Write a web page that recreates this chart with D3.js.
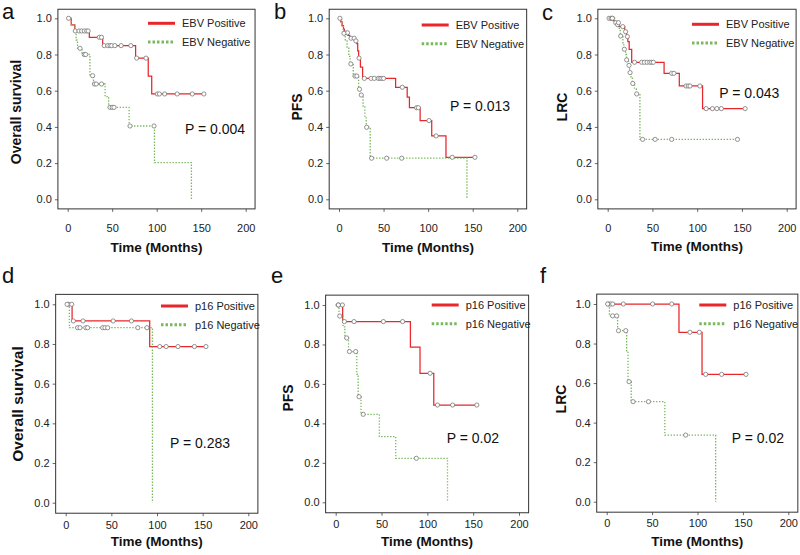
<!DOCTYPE html>
<html><head><meta charset="utf-8">
<script src="https://cdn.jsdelivr.net/npm/d3@7"></script>
<style>
body{margin:0;background:#fff}
svg{display:block;font-family:"Liberation Sans",Arial,sans-serif}
</style>
</head><body>
<svg id="chart" width="800" height="555"></svg>
<script>
// ---------- data ----------
const timeTicks = [0, 50, 100, 150, 200];
const survTicks = [0, 0.2, 0.4, 0.6, 0.8, 1.0];
const panelLetters = ["a", "b", "c", "d", "e", "f"];
const yTitles = ["Overall survival", "PFS", "LRC", "Overall survival", "PFS", "LRC"];
const pValues = ["P = 0.004", "P = 0.013", "P = 0.043", "P = 0.283", "P = 0.02", "P = 0.02"];
const markers = ["EBV", "EBV", "EBV", "p16", "p16", "p16"];
const groupStatus = ["Positive", "Negative"];

// steps: [time (months), survival from that time on]; censor: censored times
const aPosSteps = [[0,1],[4,0.963],[8,0.93],[24.3,0.895],[39.3,0.849],[76.3,0.78],[90.5,0.68],[94.4,0.582]];
const aPosCensor = [1,8.5,12.7,15.7,18.6,21.3,23,35.5,38,41,45,47.5,49.4,53,60,71,77.5,88,100.7,103,109,123,140,153];
const aNegSteps = [[0,1],[4,0.963],[8,0.926],[9.5,0.88],[11,0.834],[16,0.80],[25,0.683],[29,0.637],[42,0.567],[46,0.508],[69,0.405],[97.5,0.203],[139,0]];
const aNegCensor = [13.8,18.6,20.2,28,30,32,38,47.5,50,52,70,97];

const bPosSteps = [[0,1],[2,0.98],[3.5,0.96],[5,0.94],[6,0.92],[10,0.905],[12,0.89],[18,0.875],[20,0.86],[21,0.82],[22,0.78],[24,0.73],[26.5,0.668],[63.5,0.619],[76.5,0.564],[79,0.506],[91,0.435],[104,0.35],[120,0.232]];
const bPosCensor = [1,6.5,9.5,13.5,17,19,22.5,28.4,36,39.6,44,46,48,50,71,87,89,101,109,127,152.5];
const bNegSteps = [[0,1],[3,0.96],[5,0.917],[7,0.875],[9,0.835],[11,0.79],[12.5,0.748],[16,0.681],[22,0.608],[24,0.576],[27,0.51],[29,0.45],[30.5,0.398],[35,0.227],[143.5,0]];
const bNegCensor = [5.5,13.3,18,20,23,25,31,36.6,53.5,70.3];

const cPosSteps = [[0,1],[6,0.987],[8,0.976],[10.5,0.965],[12.5,0.954],[19,0.926],[21,0.899],[22.5,0.871],[24,0.829],[26.8,0.757],[63,0.696],[80,0.626],[106,0.501]];
const cPosCensor = [1.5,3.7,5.2,9,11,16.8,20,22,30,38,41,44,47,49,51,71.5,74,87.5,90,92,103,110,117,122,127,153.5];
const cNegSteps = [[0,1],[8,0.976],[13,0.94],[14,0.902],[17,0.865],[18,0.829],[20,0.8],[21,0.77],[23,0.74],[24.5,0.70],[26,0.67],[27.5,0.64],[30,0.61],[32,0.582],[36,0.331]];
const cNegCensor = [5.2,12,14.5,18.6,21.2,23.8,25,28,32.4,39,53,71.5,145];

const dPosSteps = [[0,1],[7,0.916],[92,0.787]];
const dPosCensor = [3,6.6,8.4,19,52,72,103,110,123,141,153.6];
const dNegSteps = [[0,1],[4,0.882],[95,0]];
const dNegCensor = [1.5,13,15.7,22,24,40.5,43,46,79,89];

const ePosSteps = [[0,1],[7.6,0.916],[81.5,0.787],[92,0.654],[107,0.493]];
const ePosCensor = [3,7.3,9.5,20,52,73,103,111,127.6,154];
const eNegSteps = [[0,1],[3.6,0.944],[8,0.889],[10,0.833],[14,0.764],[23,0.65],[24.5,0.535],[27.6,0.446],[47.6,0.333],[65.5,0.223],[122,0]];
const eNegCensor = [2.9,4.4,12,15,21.8,25.5,30,88];

const fPosSteps = [[0,1],[79.6,0.857],[105,0.644]];
const fPosCensor = [2,4.4,6.6,18.3,50.6,71.6,91.7,102,109,126.6,153.4];
const fNegSteps = [[0,1],[3,0.94],[12,0.865],[22,0.76],[23.5,0.607],[27,0.506],[64,0.337],[120,0]];
const fNegCensor = [1,6.6,11,13,21,24.6,29,46,87];

const curves = [
  [[aPosSteps, aPosCensor], [aNegSteps, aNegCensor]],
  [[bPosSteps, bPosCensor], [bNegSteps, bNegCensor]],
  [[cPosSteps, cPosCensor], [cNegSteps, cNegCensor]],
  [[dPosSteps, dPosCensor], [dNegSteps, dNegCensor]],
  [[ePosSteps, ePosCensor], [eNegSteps, eNegCensor]],
  [[fPosSteps, fPosCensor], [fNegSteps, fNegCensor]]
];

// ---------- layout ----------
const layout = [
  {x0:67.7, x200:245.7, y1:18.3, y0:199.3, xPad:12, xTitleY:247.3, yTitleX:16, yTitleY:112, yTitleSize:14, legX:148, legY:23.3, pX:185, pY:129, lX:2, lY:19},
  {x0:339, x200:517.3, y1:18.3, y0:199.3, xPad:12, xTitleY:247.5, yTitleX:296.7, yTitleY:107, yTitleSize:14, legX:421.7, legY:25, pX:450, pY:106, lX:274, lY:19},
  {x0:607.7, x200:786.7, y1:18.3, y0:199.3, xPad:12, xTitleY:246.7, yTitleX:562, yTitleY:107, yTitleSize:14, legX:692, legY:24.3, pX:719.3, pY:92.7, lX:542, lY:20},
  {x0:65.7, x200:248.3, y1:304.3, y0:502.7, xPad:5, xTitleY:541.7, yTitleX:18, yTitleY:404, yTitleSize:15.5, legX:161, legY:306, pX:170, pY:443.3, lX:2, lY:283},
  {x0:335.7, x200:519, y1:305, y0:502.3, xPad:4, xTitleY:541.7, yTitleX:288, yTitleY:398, yTitleSize:14, legX:431.7, legY:305, pX:446.7, pY:438.3, lX:271, lY:283},
  {x0:606.7, x200:788.3, y1:304, y0:501.7, xPad:4, xTitleY:541.7, yTitleX:561, yTitleY:399, yTitleSize:14, legX:699.3, legY:305, pX:731.7, pY:438.3, lX:540, lY:283}
];

const RED = "#e8262b", GREEN = "#78b95c";
const svg = d3.select("#chart");

function survAt(steps, t) {
  let s = 1;
  for (const [tt, ss] of steps) if (tt <= t) s = ss;
  return s;
}

layout.forEach((L, i) => {
  const x = d3.scaleLinear().domain([0, 200]).range([L.x0, L.x200]);
  const y = d3.scaleLinear().domain([0, 1]).range([L.y0, L.y1]);
  const g = svg.append("g");
  const bx0 = x(-11), bx1 = x(210.5), by0 = y(1.05), by1 = y(-0.053);

  // axes
  const xa = g.append("g").attr("transform", `translate(0,${by1})`)
    .call(d3.axisBottom(x).tickValues(timeTicks).tickSize(3).tickPadding(L.xPad).tickFormat(d3.format("d")));
  const ya = g.append("g").attr("transform", `translate(${bx0},0)`)
    .call(d3.axisLeft(y).tickValues(survTicks).tickSize(3).tickPadding(3).tickFormat(d3.format(".1f")));
  [xa, ya].forEach(a => {
    a.select(".domain").remove();
    a.selectAll("line").attr("stroke", "#666");
    a.selectAll("text").attr("font-size", 11).attr("fill", "#222")
      .attr("font-family", '"Liberation Sans",Arial,sans-serif');
  });

  // box
  g.append("rect").attr("x", bx0).attr("y", by0).attr("width", bx1 - bx0).attr("height", by1 - by0)
    .attr("fill", "none").attr("stroke", "#333").attr("stroke-width", 1);

  // curves
  const line = d3.line().x(d => x(d[0])).y(d => y(d[1])).curve(d3.curveStepAfter);
  curves[i].forEach(([steps, censor], k) => {
    const last = steps[steps.length - 1];
    const end = Math.max(last[0], d3.max(censor));
    const pts = steps.concat([[end, last[1]]]);
    g.append("path").datum(pts).attr("d", line).attr("fill", "none")
      .attr("stroke", k === 0 ? RED : GREEN)
      .attr("stroke-width", k === 0 ? 1.25 : 1.3)
      .attr("stroke-dasharray", k === 0 ? null : "1.4,1.6");
  });
  curves[i].forEach(([steps, censor]) => {
    g.selectAll(null).data(censor).enter().append("circle")
      .attr("cx", t => x(t)).attr("cy", t => y(survAt(steps, t))).attr("r", 2.1)
      .attr("fill", "#fff").attr("stroke", "#777").attr("stroke-width", 0.8);
  });

  // legend
  groupStatus.forEach((st, k) => {
    const ly = L.legY + k * 18.7;
    g.append("line").attr("x1", L.legX).attr("x2", L.legX + 27).attr("y1", ly).attr("y2", ly)
      .attr("stroke", k === 0 ? RED : GREEN).attr("stroke-width", 3)
      .attr("stroke-dasharray", k === 0 ? null : "2.5,2");
    g.append("text").attr("x", L.legX + 34).attr("y", ly).attr("dy", "0.35em")
      .attr("font-size", 11).attr("fill", "#222").text(markers[i] + " " + st);
  });

  // P value
  g.append("text").attr("x", L.pX).attr("y", L.pY).attr("dy", "0.35em")
    .attr("font-size", 14).attr("fill", "#111").text(pValues[i]);

  // titles
  g.append("text").attr("x", (bx0 + bx1) / 2).attr("y", L.xTitleY).attr("dy", "0.35em")
    .attr("text-anchor", "middle").attr("font-size", 13.5).attr("font-weight", "bold")
    .attr("fill", "#111").text("Time (Months)");
  g.append("text").attr("transform", `translate(${L.yTitleX},${L.yTitleY}) rotate(-90)`)
    .attr("dy", "0.35em").attr("text-anchor", "middle").attr("font-size", L.yTitleSize)
    .attr("font-weight", "bold").attr("fill", "#111").text(yTitles[i]);

  // panel letter
  g.append("text").attr("x", L.lX).attr("y", L.lY).attr("font-size", 22)
    .attr("fill", "#111").text(panelLetters[i]);
});
</script>
</body></html>
